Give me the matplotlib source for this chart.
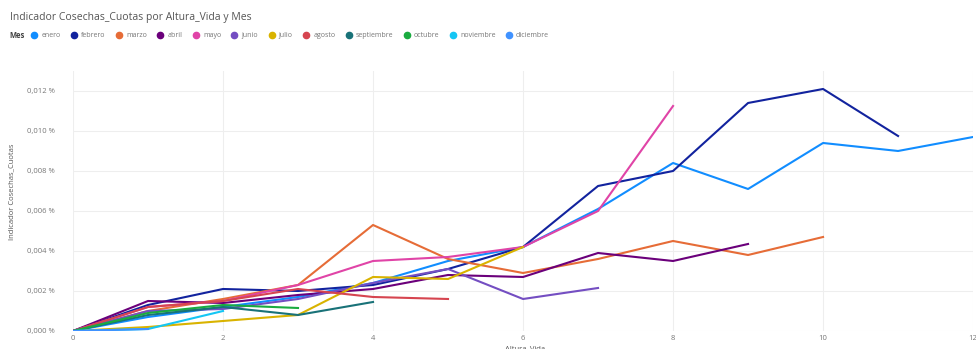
import matplotlib
matplotlib.use('Agg')
import matplotlib.pyplot as plt
from matplotlib.lines import Line2D
from matplotlib.ticker import FuncFormatter

plt.rcParams['font.family'] = ['Open Sans', 'DejaVu Sans']

# meses (cohortes) y colores
meses = ['enero', 'febrero', 'marzo', 'abril', 'mayo', 'junio', 'julio',
         'agosto', 'septiembre', 'octubre', 'noviembre', 'diciembre']
colores = ['#118DFF', '#12239E', '#E66C37', '#6B007B', '#E044A7', '#744EC2',
           '#D9B300', '#D64550', '#197278', '#1AAB40', '#15C6F4', '#4092FF']

# indicador (%) por altura de vida 0..n
enero = [0, 0.0007, 0.0012, 0.0017, 0.0024, 0.0035, 0.0042, 0.0061, 0.0084, 0.0071, 0.0094, 0.0090, 0.0097]
febrero = [0, 0.0013, 0.0021, 0.0020, 0.0023, 0.0031, 0.0042, 0.00725, 0.0080, 0.0114, 0.0121, 0.00975]
marzo = [0, 0.0010, 0.0016, 0.0023, 0.0053, 0.0036, 0.0029, 0.0036, 0.0045, 0.0038, 0.0047]
abril = [0, 0.0015, 0.0014, 0.0018, 0.0021, 0.0028, 0.0027, 0.0039, 0.0035, 0.00435]
mayo = [0, 0.0012, 0.0015, 0.0023, 0.0035, 0.0037, 0.0042, 0.0060, 0.01125]
junio = [0, 0.0010, 0.0011, 0.0016, 0.0024, 0.0031, 0.0016, 0.00215]
julio = [0, 0.0002, 0.0005, 0.0008, 0.0027, 0.0026, 0.0042]
agosto = [0, 0.0012, 0.0015, 0.0021, 0.0017, 0.0016]
septiembre = [0, 0.0008, 0.0012, 0.0008, 0.00145]
octubre = [0, 0.0009, 0.0013, 0.00115]
noviembre = [0, 0.0001, 0.0010]
diciembre = [0, 0.0001]

series = [enero, febrero, marzo, abril, mayo, junio, julio,
          agosto, septiembre, octubre, noviembre, diciembre]

fig = plt.figure(figsize=(9.76, 3.49), dpi=100)
ax = fig.add_axes([0.0748, 0.0516, 0.9222, 0.745])

for mes, col, vals in zip(meses, colores, series):
    ax.plot(range(len(vals)), vals, color=col, lw=1.5, label=mes)

ax.set_xlim(0, 12)
ax.set_ylim(0, 0.013)
ax.set_xticks(range(0, 13, 2))
ax.set_yticks([0, 0.002, 0.004, 0.006, 0.008, 0.010, 0.012])
ax.yaxis.set_major_formatter(FuncFormatter(lambda v, p: ('%.3f %%' % v).replace('.', ',')))
ax.tick_params(length=0, labelsize=5.5, colors='#777777')
ax.tick_params(axis='x', pad=3)
ax.tick_params(axis='y', pad=13)
ax.grid(True, color='#eeeeee', lw=0.8)
ax.set_axisbelow(True)
for s in ax.spines.values():
    s.set_visible(False)

fig.text(0.01, 0.95, 'Indicador Cosechas_Cuotas por Altura_Vida y Mes',
         fontsize=7.5, color='#555555', va='center')
fig.text(0.01, 0.897, 'Mes', fontsize=5.5, color='#444444', fontweight='bold', va='center')
fig.text(0.012, 0.45, 'Indicador Cosechas_Cuotas', fontsize=5.5, color='#555555',
         rotation=90, va='center', ha='center')
fig.text(0.538, 0.002, 'Altura_Vida', fontsize=5.5, color='#555555', ha='center', va='center')

handles = [Line2D([], [], marker='o', ls='', color=c, markersize=4.5) for c in colores]
fig.legend(handles, meses, loc='center left', bbox_to_anchor=(0.028, 0.897), ncol=12,
           frameon=False, fontsize=5, labelcolor='#777777', handletextpad=0.05,
           columnspacing=0.9, borderaxespad=0, borderpad=0)

fig.savefig('out.png', dpi=100)
